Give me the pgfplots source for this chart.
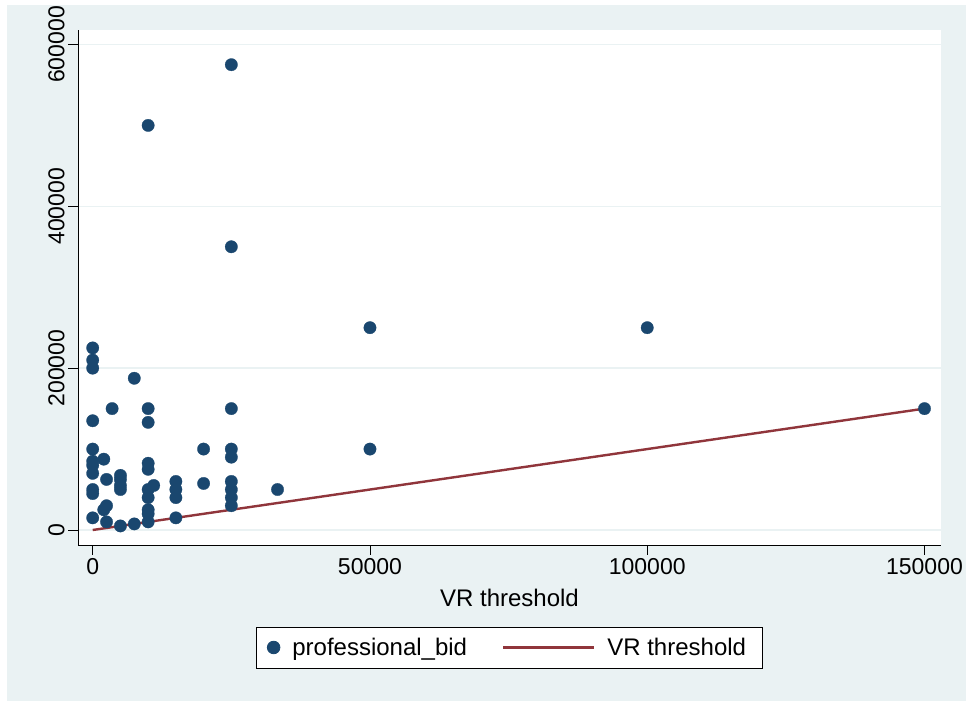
\documentclass[border=0pt]{standalone}
\usepackage{pgfplots}
\pgfplotsset{compat=1.18}
\usepackage{fontspec}
\setmainfont{Liberation Sans}
\definecolor{stnavy}{RGB}{26,71,111}
\definecolor{stmaroon}{RGB}{144,53,59}
\definecolor{stbg}{RGB}{234,242,243}
\begin{document}
\begin{tikzpicture}[x=1bp,y=1bp]
\fill[white] (0,0) rectangle (969,702);
\fill[stbg] (7,1) rectangle (966,697);
\begin{axis}[
  at={(78bp,157bp)}, anchor=south west,
  scale only axis, width=863bp, height=515bp,
  xmin=-2651, xmax=152980, ymin=-18540, ymax=617900,
  axis background/.style={fill=white},
  axis x line*=bottom, axis y line*=left,
  axis line style={black, line width=0.9bp, -},
  xtick={0,50000,100000,150000},
  ytick={0,200000,400000,600000},
  tick align=outside, major tick length=10bp,
  tick style={black, line width=0.9bp},
  scaled ticks=false,
  /pgf/number format/fixed,
  /pgf/number format/1000 sep={},
  /pgf/number format/assume math mode=true,
  ymajorgrids, grid style={stbg, line width=1.6bp},
  ticklabel style={font=\fontsize{23bp}{27bp}\selectfont},
  yticklabel style={rotate=90, anchor=south},
  xlabel={VR threshold},
  xlabel style={font=\fontsize{24bp}{28bp}\selectfont, at={(axis description cs:0.5,-0.1194)}, anchor=base},
  legend columns=2,
  legend style={at={(axis description cs:0.5,-0.199)}, anchor=center,
    draw=black, line width=0.8bp, fill=white,
    font=\fontsize{24bp}{28bp}\selectfont,
    inner xsep=10.5bp, inner ysep=11bp,
    nodes={inner sep=0bp},
    /tikz/every odd column/.append style={column sep=12bp},
    /tikz/every even column/.append style={column sep=35bp}},
]
\addplot[stnavy, only marks, mark=*, mark size=6.2bp,
  mark options={draw=stnavy, fill=stnavy, line width=0.3bp},
  legend image code/.code={\fill[stnavy] (0bp,0bp) circle (6.3bp);}]
  coordinates {
  (0,225000) (0,210000) (0,200000) (0,135000) (0,100000) (0,85000) (0,80000)
  (0,70000) (0,50000) (0,45000) (0,15000)
  (2000,87500) (2500,62500) (2500,30000) (2000,25000) (2500,10000)
  (3500,150000)
  (5000,67500) (5000,62500) (5000,55000) (5000,50000) (5000,5000)
  (7500,187500) (7500,7500)
  (10000,500000) (10000,150000) (10000,133000) (10000,82500) (10000,75000)
  (10000,50000) (10000,40000) (10000,25000) (10000,20000) (10000,10000)
  (11000,55000)
  (15000,60000) (15000,50000) (15000,40000) (15000,15000)
  (20000,100000) (20000,57500)
  (25000,575000) (25000,350000) (25000,150000) (25000,100000) (25000,90000)
  (25000,60000) (25000,50000) (25000,40000) (25000,30000)
  (33333,50000)
  (50000,250000) (50000,100000)
  (100000,250000)
  (150000,150000)
  };
\addlegendentry{professional\_bid}
\addplot[stmaroon, line width=2.4bp,
  legend image code/.code={\draw[stmaroon, line width=2.2bp] (0bp,0bp) -- (91bp,0bp);}]
  coordinates {(0,0) (150000,150000)};
\addlegendentry{VR threshold\kern6bp}
\end{axis}
\end{tikzpicture}
\end{document}
